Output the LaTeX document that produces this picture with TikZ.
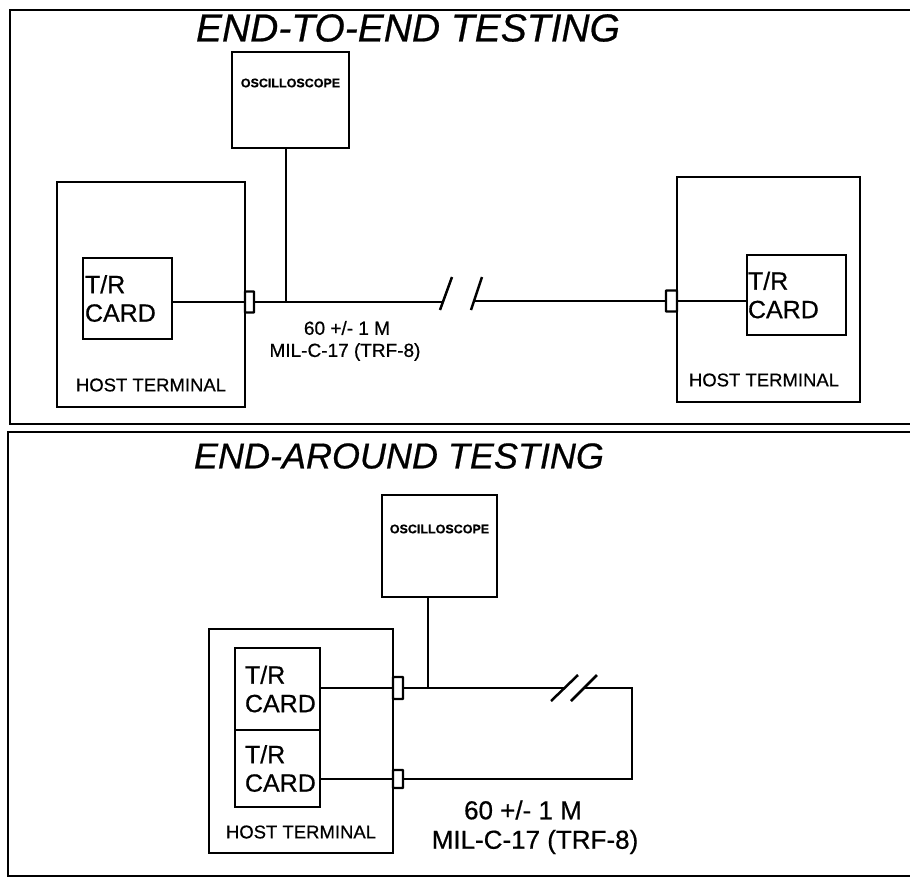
\documentclass[tikz,border=0pt]{standalone}
\usepackage{fontspec}
\setmainfont{Liberation Sans}[FakeBold=0.6]
\begin{document}
\begin{tikzpicture}[x=1pt,y=-1pt,
  frame/.style={line width=2.6pt},
  box/.style={draw, line width=2.3pt, inner sep=0pt},
  conn/.style={draw, line width=2.3pt, inner sep=0pt, rounded corners=0.5pt},
  wire/.style={line width=2.5pt},
  titletext/.style={font=\fontsize{39}{42}\selectfont\itshape, inner sep=0pt},
  titletextb/.style={font=\fontsize{36}{40}\selectfont\itshape, inner sep=0pt},
  osclbl/.style={font=\fontsize{12.5}{13}\selectfont\bfseries, inner sep=0pt},
  hostlbl/.style={font=\fontsize{18.5}{20}\selectfont, inner sep=0pt},
  card/.style={box, align=left, font=\fontsize{25}{28.5}\selectfont},
  cablesmall/.style={font=\fontsize{19}{21}\selectfont, inner sep=0pt},
  cablebig/.style={font=\fontsize{26}{28}\selectfont, inner sep=0pt}]
\useasboundingbox (0,0) rectangle (910,883);

% ---------------- top panel ----------------
\draw[frame] (914,10) -- (10,10) -- (10,424) -- (914,424);
\node[titletext] (t1) at (408,28) {END-TO-END TESTING};

\node[box, minimum width=117pt, minimum height=96pt] (osc1) at (290.5,100) {};
\node[osclbl] (osc1l) at (290.5,83) {OSCILLOSCOPE};

\node[box, minimum width=188pt, minimum height=225pt] (host1) at (151,294.5) {};
\node[hostlbl] (host1l) at (151,385) {HOST TERMINAL};
\node[card, minimum width=89pt, minimum height=81pt, inner xsep=2pt, text width=85pt] (c1) at (127.5,298.5) {T/R\\CARD};
\node[conn, minimum width=9pt, minimum height=21pt] (k1) at (249.5,302) {};

\node[box, minimum width=183pt, minimum height=225pt] (host2) at (768.5,289.5) {};
\node[hostlbl] (host2l) at (764,380) {HOST TERMINAL};
\node[card, minimum width=99pt, minimum height=80pt, inner xsep=1pt, text width=97pt] (c2) at (796.5,295) {T/R\\CARD};
\node[conn, minimum width=11pt, minimum height=21pt] (k2) at (671.5,301) {};

\coordinate (tap1) at (286,302);
\coordinate (brk1a) at (443.3,302);
\coordinate (brk1b) at (474.3,301);
\draw[wire] (c1.east |- k1.west) -- (k1.west);
\draw[wire] (k1.east) -- (brk1a);
\draw[wire] (brk1b) -- (k2.west);
\draw[wire] (k2.east) -- (c2.west |- k2.east);
\draw[wire] (osc1.south -| tap1) -- (tap1);
\draw[wire] (440,310) -- (452,277);
\draw[wire] (471,310) -- (482,277);

\node[cablesmall] (len1) at (347,328) {60 +/- 1 M};
\node[cablesmall] (typ1) at (345,352) {MIL-C-17 (TRF-8)};

% ---------------- bottom panel ----------------
\draw[frame] (914,432) -- (8,432) -- (8,876) -- (914,876);
\node[titletextb] (t2) at (399,456) {END-AROUND TESTING};

\node[box, minimum width=115pt, minimum height=102pt] (osc2) at (439.5,546) {};
\node[osclbl] (osc2l) at (439.5,529) {OSCILLOSCOPE};

\node[box, minimum width=184pt, minimum height=224pt] (host3) at (301,741) {};
\node[hostlbl] (host3l) at (301,832) {HOST TERMINAL};
\node[card, minimum width=85pt, minimum height=82pt, inner xsep=10pt, text width=65pt] (cA) at (277.5,689) {T/R\\CARD};
\node[card, minimum width=85pt, minimum height=77pt, inner xsep=10pt, text width=65pt] (cB) at (277.5,768.5) {T/R\\CARD};
\node[conn, minimum width=10pt, minimum height=22pt] (kA) at (398,688) {};
\node[conn, minimum width=10pt, minimum height=18pt] (kB) at (398,779) {};

\coordinate (tap2) at (428,688);
\coordinate (brk2a) at (564.5,688);
\coordinate (brk2b) at (584.5,688);
\coordinate (cor2) at (632,688);
\draw[wire] (cA.east |- kA.west) -- (kA.west);
\draw[wire] (cB.east |- kB.west) -- (kB.west);
\draw[wire] (kA.east) -- (brk2a);
\draw[wire] (brk2b) -- (cor2) -- (cor2 |- kB.east) -- (kB.east);
\draw[wire] (osc2.south -| tap2) -- (tap2);
\draw[wire] (551,701) -- (578,675);
\draw[wire] (571,701) -- (597,675);

\node[cablebig] (len2) at (523,810) {60 +/- 1 M};
\node[cablebig] (typ2) at (535,842) {MIL-C-17 (TRF-8)};
\end{tikzpicture}
\end{document}
